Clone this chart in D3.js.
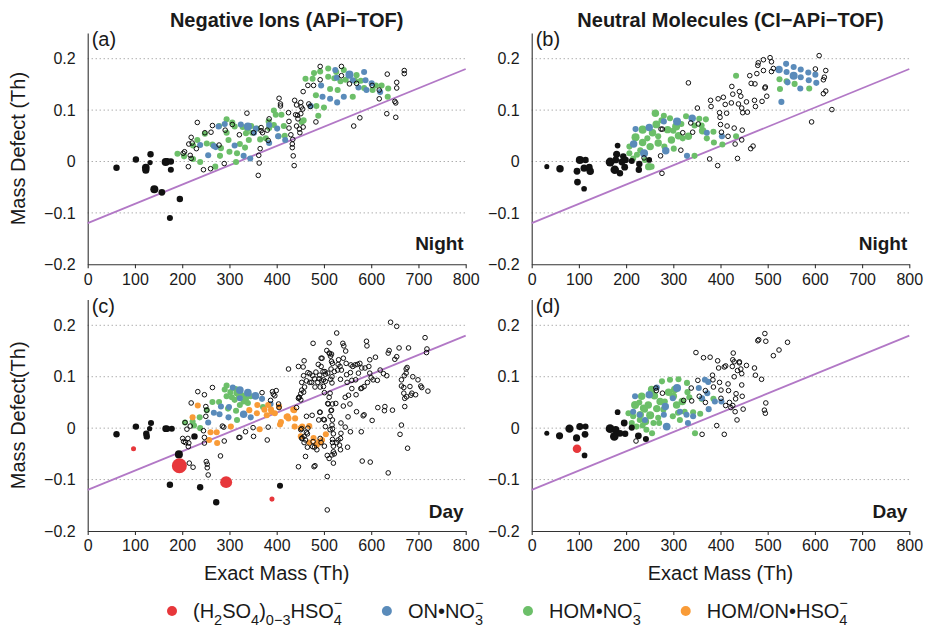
<!DOCTYPE html>
<html>
<head>
<meta charset="utf-8">
<script src="https://cdn.jsdelivr.net/npm/d3@7"></script>
<style>
    body { margin: 0; background: #fff; }
    text { font-family: Arial, "Liberation Sans", sans-serif; fill: #1a1a1a; }
</style>
</head>
<body>
<svg id="chart" width="926" height="630"></svg>
<script>
// axis ticks and reference line
const xTicks = [0, 100, 200, 300, 400, 500, 600, 700, 800];
const yTicks = [-0.2, -0.1, 0, 0.1, 0.2];
const gridValues = [-0.1, 0, 0.1, 0.2];
const fitLine = [[0, -0.12], [800, 0.18]];

const titles = ["Negative Ions (APi\u2212TOF)", "Neutral Molecules (CI\u2212APi\u2212TOF)"];

// points: [exact mass, mass defect, relative signal]
// (a) negative ions, night
const aBlack = [[61,-0.012,1.8],[102,0.004,1.8],[123,-0.012,2.6],[123,-0.017,2.2],[132,-0.002,1.2],[133,0.014,1.8],[141,-0.054,2.8],[157,-0.06,2],[165,-0.001,2.8],[168,0,2],[176,0,1.8],[176,-0.016,1.6],[195,-0.073,1.8],[174,-0.11,1.6]];
const aOpen = [[232,0.076],[219,0.047],[214,0.034],[221,0.036],[205,0.019],[202,0.016],[217,0.012],[219,0.006],[213,-0.01],[230,0.025],[245,-0.016],[260,-0.014],[248,0.056],[261,0.057],[264,0.07],[278,0.032],[289,-0.004],[291,0.061],[306,0.072],[321,0.052],[337,0.094],[351,0.056],[362,0.012],[365,0.025],[363,-0.003],[361,-0.027],[367,0.066],[367,0.06],[370,0.056],[380,0.061],[384,0.083],[382,0.041],[405,0.123],[408,0.112],[408,0.108],[425,0.095],[426,0.078],[426,0.065],[430,0.052],[434,0.043],[433,0.027],[435,0.011],[437,-0.008],[433,0.034],[438,0.119],[442,0.11],[440,0.091],[444,0.09],[445,0.083],[442,0.069],[448,0.063],[451,0.115],[452,0.106],[455,0.102],[451,0.093],[456,0.067],[449,0.056],[456,0.136],[466,0.148],[478,0.148],[468,0.112],[471,0.107],[483,0.077],[492,0.185],[492,0.159],[537,0.167],[537,0.185],[554,0.151],[569,0.152],[563,0.069],[576,0.085],[602,0.148],[617,0.139],[617,0.122],[634,0.17],[633,0.093],[654,0.143],[654,0.154],[650,0.117],[652,0.114],[652,0.086],[670,0.177],[670,0.171]];
const aGreen = [[190,0.015],[204,0.01],[223,0.031],[223,0.005],[238,-0.001],[232,0.042],[248,0.054],[252,0.035],[264,0.033],[270,-0.01],[278,0.069],[280,0.011],[282,0.026],[294,0.082],[294,0.056],[298,0.042],[300,0.019],[306,0.076],[311,0.068],[314,-0.001],[316,0.016],[322,0.034],[328,0.067],[333,0.027],[335,0.055],[338,0.063],[341,0.042],[346,0.069],[348,0.056],[358,0.064],[365,0.043],[377,0.045],[383,0.078],[384,0.065],[394,0.099],[394,0.071],[398,0.091],[404,0.049],[410,0.091],[415,0.069],[417,0.05],[453,0.077],[457,0.08],[461,0.161],[479,0.172],[476,0.161],[483,0.129],[484,0.108],[488,0.089],[492,0.175],[500,0.105],[509,0.181],[509,0.165],[513,0.141],[522,0.162],[526,0.174],[529,0.139],[535,0.156],[542,0.178],[546,0.159],[561,0.126],[566,0.157],[569,0.168],[578,0.157],[585,0.143],[603,0.139],[610,0.148],[622,0.148],[636,0.142],[635,0.126]];
const aBlue = [[238,0.032],[255,0.012],[267,0.03],[277,0.068],[271,0.028],[290,0.073],[311,0.031],[324,0.072],[330,0.011],[339,0.068,2.8],[344,0.006],[352,0.056],[356,0.064],[384,0.071],[384,0.036],[401,0.064],[403,0.049],[418,0.042],[472,0.108],[494,0.148],[497,0.126],[513,0.122],[524,0.178],[527,0.163],[528,0.115],[542,0.126],[554,0.169,2.8],[561,0.158],[573,0.144],[585,0.174],[588,0.158],[590,0.139],[601,0.152],[619,0.135]];

// (b) neutral molecules, night
const bBlack = [[32,-0.01,1.1],[60,-0.014,2.4],[96,-0.019,2],[97,-0.04,2],[102,0.003,2.8],[114,0.003,1.8],[111,-0.013,2.2],[111,-0.053,1.4],[124,-0.019,2.4],[122,-0.011,2],[166,-0.001,3.4],[176,-0.016,3.2],[180,0.014,2.2],[182,0.031,1.4],[178,0.003,2],[187,-0.023,1.8],[194,0.01,1.8],[197,-0.011,2],[191,-0.001,2],[212,0.001,1.6],[228,-0.005,1.8],[227,-0.016,1.8],[199,0.003,1.8],[249,0.003,1.4]];
const bOpen = [[332,0.153],[351,0.104],[353,0.073],[337,0.075],[341,0.057],[316,0.022],[320,0.056],[274,0.063],[277,0.063],[276,-0.023],[273,0.011],[238,0.007],[377,0.005],[394,-0.008],[379,0.119],[380,0.107],[395,0.122],[406,0.125],[410,0.111],[398,0.095],[399,0.086],[400,0.072],[413,0.094],[414,0.069],[402,0.057],[416,0.049],[424,0.146],[426,0.131],[423,0.114],[429,0.065],[431,0.034],[436,0.006],[440,0.136],[443,0.127],[438,0.112],[445,0.104],[447,0.095],[446,0.061],[445,0.042],[455,0.116],[457,0.096],[462,0.167],[465,0.152],[473,0.151],[464,0.025],[469,0.03],[472,0.119],[474,0.107],[477,0.171],[480,0.192],[479,0.187],[488,0.117],[491,0.177],[491,0.198],[495,0.145],[494,0.143],[498,0.127],[505,0.202],[508,0.194],[508,0.175],[512,0.181],[593,0.077],[601,0.18],[609,0.206],[618,0.159],[620,0.164],[623,0.177],[618,0.132],[623,0.137],[636,0.101]];
const bGreen = [[207,0.029],[207,0.016],[220,0.047,2.8],[223,0.013],[235,0.062,2.8],[235,0.037,2.4],[240,0.003],[248,-0.01,2.4],[254,-0.01],[251,0.029,2.4],[256,0.056,2.4],[262,0.094,2.4],[264,0.072,2.6],[268,0.049],[268,0.036,2.4],[280,0.089],[281,0.029],[288,0.062,2.4],[293,0.084],[296,0.042,2.4],[301,0.025],[306,0.068,2.8],[311,0.05,2.4],[317,0.073],[327,0.088],[332,0.049,2.4],[345,0.011],[355,0.083],[362,0.06,2.4],[369,0.082],[371,0.045],[385,0.058],[386,0.037],[404,0.033],[433,0.167],[433,0.049],[525,0.16],[526,0.141],[540,0.156],[557,0.151],[588,0.142],[215,0.006],[230,0.022],[245,0.045],[275,0.08],[300,0.06],[320,0.045],[345,0.07],[360,0.07]];
const bBlue = [[220,0.063],[216,0.034,2.4],[238,0.016,2.8],[249,0.066,2.4],[280,0.078],[284,0.021,2.4],[308,0.078,2.8],[329,0.011],[340,0.084,2.4],[371,0.056],[403,0.049],[524,0.179,2.4],[539,0.19],[540,0.174],[555,0.184],[555,0.167,2.8],[570,0.179],[570,0.164],[586,0.173],[587,0.158],[569,0.142],[601,0.169],[603,0.153],[529,0.116],[542,0.154]];

// (c) negative ions, day
const cBlack = [[61,-0.012,1.8],[102,0.003,1.8],[124,-0.011,1.8],[125,-0.016,1.8],[131,-0.001,1.2],[134,0.01,1.6],[165,-0.001,2],[168,-0.001,1.8],[178,-0.001,1.6],[226,-0.016,1.8],[193,-0.051,2.8],[174,-0.11,1.8],[238,-0.115,1.8],[272,-0.144,1.8],[407,-0.112,1.6]];
const cRed = [[97,-0.04,1.1],[194,-0.073,9.8],[293,-0.105,6.2],[390,-0.138,1.1]];
const cOpen = [[233,0.071],[247,0.065],[264,0.079],[219,0.049],[206,0.011],[217,0.004],[210,-0.002],[201,-0.02],[212,-0.02],[207,-0.028],[203,-0.026],[214,-0.029],[213,-0.036],[215,-0.068],[223,-0.076],[245,-0.005],[247,-0.018],[247,-0.029],[250,0.023],[252,0.035],[250,0.042],[251,-0.065],[253,-0.07],[253,-0.077],[255,-0.091],[281,-0.054],[285,0.004],[288,0.002],[289,-0.025],[320,-0.018],[322,-0.018],[334,-0.007],[350,0.001],[351,-0.016],[369,0.069],[380,-0.023],[382,0.002],[387,0.054],[391,0.071],[396,0.063],
    [477,0.165],[458,0.131],[446,0.12],[425,0.115],[456,0.119],[466,0.108],[457,0.102],[470,0.106],[476,0.102],[483,0.109],[491,0.103],[498,0.11],[480,0.096],[490,0.096],[495,0.092],[487,0.089],[474,0.089],[503,0.091],[499,0.081],[481,0.08],[459,0.08],[453,0.074],[457,0.07],[451,0.067],[447,0.06],[451,0.055],[492,0.08],[514,0.095],[508,0.107],[517,0.1],[522,0.11],[529,0.113],[534,0.12],[541,0.136],[540,0.165],[542,0.16],[546,0.15],[531,0.133],[518,0.126],[516,0.144],[512,0.145],[494,0.136],[488,0.124],[530,0.124],[537,0.113],[547,0.126],[557,0.123],[561,0.12],[566,0.123],[571,0.124],[556,0.108],[548,0.104],[535,0.095],[549,0.089],[559,0.093],[567,0.094],[559,0.077],[552,0.064],[545,0.06],[568,0.065],[578,0.077],[580,0.078],[585,0.081],[592,0.089],[600,0.098],[604,0.094],[613,0.093],[597,0.107],[595,0.12],[587,0.117],[597,0.133],[609,0.138],[590,0.169],[591,0.16],[576,0.126],[580,0.117],[573,0.107],[619,0.113],[626,0.106],[633,0.102],[636,0.146],[638,0.151],[650,0.134],[654,0.139],[659,0.156],[641,0.206],[654,0.198],[670,0.102],[674,0.115],[676,0.118],[674,0.107],[679,0.156],[664,0.094],[664,0.082],[669,0.079],[669,0.068],[671,0.058],[675,0.061],[671,0.042],[682,0.081],[686,0.068],[684,0.064],[694,0.065],[688,0.1],[699,0.094],[705,0.082],[707,0.079],[720,0.072],[714,0.176],[718,0.154],[717,0.147],[661,-0.012],[677,-0.039],[645,0.035],[628,0.034],[614,0.04],[636,-0.087],[598,-0.066],[581,-0.064],[583,0.024],[585,0.026],[579,-0.007],[556,-0.007],[550,-0.037],[535,-0.042],[533,-0.033],[535,-0.02],[536,-0.01],[536,0.01],[545,0.002],[520,-0.011],[518,-0.022],[518,-0.001],[517,0.006],[518,0.016],[513,0.023],[516,0.035],[511,0.06],[501,0.069],[499,0.017],[501,0.016],[491,0.031],[492,0.031],[508,0.048],[518,0.047],[551,0.022],[520,-0.035],[518,-0.028],[520,-0.046],[507,-0.053],[507,-0.159],[481,-0.073],[479,-0.075],[461,-0.055],[446,-0.075],[465,-0.037],[476,-0.036],[485,-0.042],[477,-0.026],[461,-0.023],[458,-0.016],[463,0.023],[475,0.025],[465,-0.011],[453,-0.02],[451,-0.003],[492,-0.02],[494,-0.028],[501,-0.035],[480,-0.037],[517,-0.052],[511,-0.059],[520,-0.068],[527,-0.028],[530,-0.023],[489,0.016],[513,-0.003],[503,0.003],[525,0.048],[453,0.089],[463,0.092],[470,0.089],[513,0.068],[555,0.047],[541,0.043],[569,0.032],[602,0.015],[629,0.042],[664,0.006],[405,0.04],[404,0.047],[399,0.073],[393,0.066],[442,0.04],[446,0.058],[448,0.06],[453,-0.001],[454,-0.019],[458,-0.028],[463,-0.008],[466,0],
    [527,0.185],[507,-0.094],[509,0.047],[515,0.034],[522,-0.05],[496,0.136],[494,0.12],[499,0.094],[502,0.11],[503,0.105],[506,0.151],[511,0.166],[511,0.146],[514,0.14],[516,0.13],[515,0.115],[517,0.088]];
const cGreen = [[206,0.011],[225,0.005],[238,0],[237,0.021],[222,0.013],[252,0.035],[264,0.051],[278,0.051],[294,0.083],[294,0.062],[297,0.038],[311,0.055],[313,0.076],[314,0.034],[316,0.016],[322,0.045],[327,0.064],[335,0.057],[339,0.049],[371,0.041],[315,0.068],[305,0.06],[330,0.052],[290,0.075],[302,0.07],[320,0.062],[345,0.062]];
const cBlue = [[255,0.011],[267,0.03],[279,0.027],[282,0.042],[298,0.021],[307,0.079],[322,0.074,2.6],[339,0.069,2.6],[330,0.027,2.4],[345,0.021],[355,0.063,2.6],[369,0.057],[387,0.047],[299,0.041],[322,0.058]];
const cOrange = [[233,0.044],[222,0.021],[260,-0.008],[273,-0.008],[274,-0.029],[303,0.003],[342,0.035],[358,0.029],[364,-0.002],[359,0.045],[379,0.025],[388,0.036],[396,0.029],[405,0.042],[409,0.012],[407,0.007],[423,0.023],[435,0.036],[439,0.019],[438,0.003],[451,0],[469,0.004],[469,-0.028],[489,-0.027],[496,-0.023],[484,-0.031],[504,-0.012],[451,-0.016],[421,0.022],[425,0.019],[437,0.035],[454,0.003],[478,-0.019],[485,-0.033],[492,-0.028],[257,-0.023],[374,0.036],[382,0.045],[389,0.032]];

// (d) neutral molecules, day
const dBlack = [[32,-0.01,1.1],[59,-0.015,2.2],[80,-0.001,3],[95,-0.019,2.2],[102,0.003,2.2],[114,0.003,1.6],[113,-0.012,2],[112,-0.053,1.4],[166,-0.001,3.4],[175,-0.016,3.2],[178,-0.003,2.4],[182,0.031,1.4],[187,-0.01,2],[196,0.01,2],[198,-0.011,1.8],[212,0.001,1.6],[226,-0.015,2],[242,-0.021,1.6]];
const dRed = [[96,-0.04,3.2]];
const dOpen = [[348,0.147],[364,0.137],[378,0.138],[394,0.131],[396,0.117],[408,0.119],[411,0.121],[427,0.146],[426,0.133],[429,0.129],[425,0.12],[440,0.129],[443,0.115],[445,0.106],[429,0.1],[455,0.122],[472,0.117],[474,0.103],[487,0.095],[481,0.172],[494,0.184],[496,0.169],[512,0.141],[524,0.152],[542,0.167],[352,0.093],[368,0.073],[368,0.05],[383,0.103],[384,0.094],[398,0.089],[401,0.074],[416,0.086],[417,0.073],[385,0.08],[401,0.058],[411,0.044],[422,0.04],[433,0.067],[432,0.057],[446,0.062],[445,0.084],[448,0.037],[431,0.032],[435,0.016],[496,0.049],[493,0.035],[495,0.029],[392,0.005],[408,-0.012],[361,-0.012],[221,-0.025],[263,0.078],[264,0.073],[277,0.068],[338,0.078],[339,0.053],[322,0.054],[355,0.062],[479,0.17],[436,0.112],[440,0.127],[419,0.05],[426,0.044]];
const dGreen = [[205,0.029],[212,0.01],[219,0.045,2.8],[222,0.003],[230,0.026,2.4],[233,0.062,2.4],[237,0.039,2.4],[241,0.013,2.4],[243,-0.003],[247,0.045,2.4],[251,0.025,2.8],[255,-0.01],[260,0.063,2.4],[265,0.038,2.4],[270,0.01],[276,0.091],[272,0.052,2.4],[282,0.052],[293,0.094],[299,0.023],[300,0.062,2.4],[311,0.095],[303,0.075,2.4],[314,0.016],[319,0.052,2.4],[329,0.088],[334,0.06],[342,0.031],[346,-0.01],[357,0.028],[360,0.057],[385,0.057],[254,0.075,2.4],[240,0.036],[286,0.003],[307,0.045,2.4],[215,0.023],[229,0.016],[279,0.036],[324,0.032],[228,0.05],[258,0.01],[290,0.07,2.4],[310,0.03],[330,0.07],[268,0.02],[235,0.005]];
const dBlue = [[219,0.062],[215,0.032],[229,0.026],[240,0.016],[249,0.065,2.4],[265,0.079],[280,0.026],[286,0.003,2.6],[283,0.042,2.4],[299,0.058],[308,0.078,2.8],[314,0.032],[328,0.026],[331,0.01],[342,0.023],[354,0.078],[361,0.058],[374,0.09],[375,0.037],[372,0.068],[388,0.052],[402,0.052],[367,0.094]];

const colors = {
    red: "#e7373b",
    blue: "#5a8bba",
    green: "#6cbf69",
    orange: "#f99b37",
    black: "#111111",
    fit: "#b278c6"
};

const panels = [
    { label: "(a)", time: "Night", left: 87.7, right: 465.7, top: 33, bottom: 264.3, title: titles[0], yLabel: "Mass Defect (Th)", xLabel: false,
      green: aGreen, blue: aBlue, orange: [], black: aBlack, red: [], open: aOpen },
    { label: "(b)", time: "Night", left: 531.7, right: 909.3, top: 33, bottom: 264.3, title: titles[1], yLabel: null, xLabel: false,
      green: bGreen, blue: bBlue, orange: [], black: bBlack, red: [], open: bOpen },
    { label: "(c)", time: "Day", left: 87.7, right: 465.7, top: 299.6, bottom: 531, title: null, yLabel: "Mass Defect(Th)", xLabel: true,
      green: cGreen, blue: cBlue, orange: cOrange, black: cBlack, red: cRed, open: cOpen },
    { label: "(d)", time: "Day", left: 531.7, right: 909.3, top: 299.6, bottom: 531, title: null, yLabel: null, xLabel: true,
      green: dGreen, blue: dBlue, orange: [], black: dBlack, red: dRed, open: dOpen }
];

const legendItems = [
    { color: colors.red, parts: [["(H"], ["2", "sub"], ["SO"], ["4", "sub"], [")"], ["0\u22123", "sub"], ["HSO"], ["4", "sub"], ["\u2212", "sup"]] },
    { color: colors.blue, parts: [["ON\u2022NO"], ["3", "sub"], ["\u2212", "sup"]] },
    { color: colors.green, parts: [["HOM\u2022NO"], ["3", "sub"], ["\u2212", "sup"]] },
    { color: colors.orange, parts: [["HOM/ON\u2022HSO"], ["4", "sub"], ["\u2212", "sup"]] }
];

const svg = d3.select("#chart");
const rScale = d3.scaleSqrt().domain([0, 1]).range([0, 2.4]);

panels.forEach(drawPanel);
drawLegend();

function drawPanel(p) {
    const x = d3.scaleLinear().domain([0, 800]).range([p.left, p.right]);
    const y = d3.scaleLinear().domain([-0.2, 0.25]).range([p.bottom, p.top]);
    const g = svg.append("g");

    // dotted grid lines
    g.selectAll(".grid")
        .data(gridValues)
        .join("line")
        .attr("x1", x(0))
        .attr("x2", x(800))
        .attr("y1", d => y(d))
        .attr("y2", d => y(d))
        .attr("stroke", "#8a8a8a")
        .attr("stroke-width", 1)
        .attr("stroke-dasharray", "1,3");

    // axes
    const xAxis = g.append("g")
        .attr("transform", `translate(0, ${y(-0.2)})`)
        .call(d3.axisBottom(x).tickValues(xTicks).tickSize(4).tickSizeOuter(0).tickPadding(5).tickFormat(d3.format("d")));
    const yAxis = g.append("g")
        .attr("transform", `translate(${x(0)}, 0)`)
        .call(d3.axisLeft(y).tickValues(yTicks).tickSize(0).tickPadding(12)
            .tickFormat(d => d === 0 ? "0" : d3.format(".1f")(d)));
    [xAxis, yAxis].forEach(a => {
        a.attr("font-size", 16).attr("font-family", "Arial, 'Liberation Sans', sans-serif");
        a.selectAll("path, line").attr("stroke", "#333").attr("stroke-width", 1.1);
        a.selectAll("text").attr("fill", "#1a1a1a");
    });

    // fit line
    g.append("line")
        .attr("x1", x(fitLine[0][0]))
        .attr("y1", y(fitLine[0][1]))
        .attr("x2", x(fitLine[1][0]))
        .attr("y2", y(fitLine[1][1]))
        .attr("stroke", colors.fit)
        .attr("stroke-width", 1.8);

    // filled markers
    const filled = [["green", p.green], ["blue", p.blue], ["orange", p.orange], ["black", p.black], ["red", p.red]];
    filled.forEach(([key, pts]) => {
        g.append("g")
            .selectAll("circle")
            .data(pts)
            .join("circle")
            .attr("cx", d => x(d[0]))
            .attr("cy", d => y(d[1]))
            .attr("r", d => rScale(d[2] || 1.6))
            .attr("fill", colors[key]);
    });

    // open markers
    g.append("g")
        .selectAll("circle")
        .data(p.open)
        .join("circle")
        .attr("cx", d => x(d[0]))
        .attr("cy", d => y(d[1]))
        .attr("r", 2.3)
        .attr("fill", "none")
        .attr("stroke", "#111")
        .attr("stroke-width", 1);

    // texts
    g.append("text")
        .attr("x", p.left + 4)
        .attr("y", p.top + 13)
        .attr("font-size", 20)
        .text(p.label);

    g.append("text")
        .attr("x", p.right - 2)
        .attr("y", p.bottom - (p.time === "Night" ? 14.5 : 13))
        .attr("text-anchor", "end")
        .attr("font-size", 19)
        .attr("font-weight", "bold")
        .text(p.time);

    if (p.title) {
        g.append("text")
            .attr("x", (p.left + p.right) / 2 + 10)
            .attr("y", 27)
            .attr("text-anchor", "middle")
            .attr("font-size", 20)
            .attr("font-weight", "bold")
            .text(p.title);
    }

    if (p.yLabel) {
        g.append("text")
            .attr("transform", `translate(25, ${(p.top + p.bottom) / 2}) rotate(-90)`)
            .attr("text-anchor", "middle")
            .attr("font-size", 20)
            .text(p.yLabel);
    }

    if (p.xLabel) {
        g.append("text")
            .attr("x", (p.left + p.right) / 2)
            .attr("y", 580)
            .attr("text-anchor", "middle")
            .attr("font-size", 20)
            .text("Exact Mass (Th)");
    }
}

function drawLegend() {
    const legend = svg.append("g");
    const baseY = 618;
    let cx = 172;

    legendItems.forEach(item => {
        legend.append("circle")
            .attr("cx", cx)
            .attr("cy", baseY - 7)
            .attr("r", 5)
            .attr("fill", item.color);

        // main text with subscripts
        const text = legend.append("text")
            .attr("x", cx + 21)
            .attr("y", baseY)
            .attr("font-size", 20);

        let offset = 0;
        let subWidth = 0;
        item.parts.forEach(([t, kind]) => {
            if (kind === "sup") return;
            const target = kind === "sub" ? 7 : 0;
            const span = text.append("tspan")
                .attr("dy", target - offset)
                .attr("font-size", kind ? 14.5 : 20)
                .text(t);
            if (kind === "sub") subWidth = span.node().getComputedTextLength();
            offset = target;
        });
        const subEnd = cx + 21 + text.node().getComputedTextLength();

        // charge stacked over the last subscript, as its own text
        item.parts.filter(d => d[1] === "sup").forEach(([t]) => {
            legend.append("text")
                .attr("x", subEnd - subWidth)
                .attr("y", baseY - 10)
                .attr("font-size", 14.5)
                .text(t);
        });

        cx = subEnd + 2 + 43;
    });
}
</script>
</body>
</html>
